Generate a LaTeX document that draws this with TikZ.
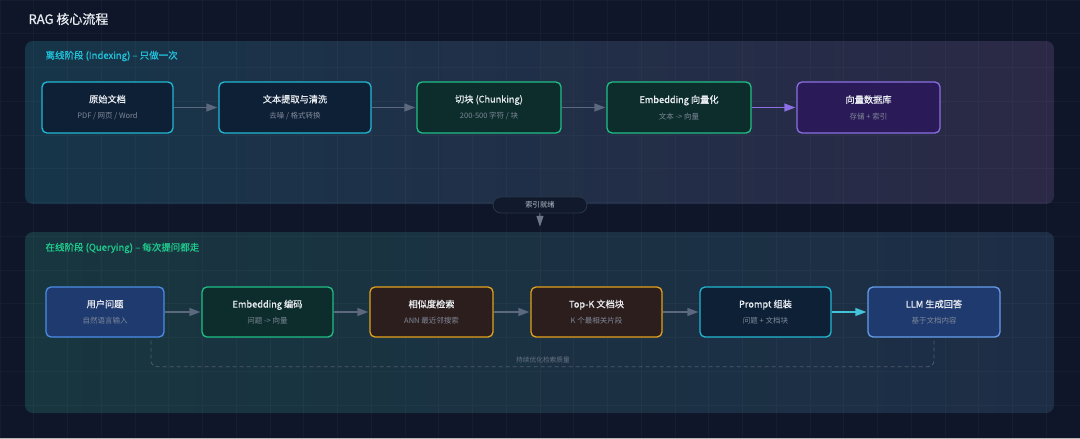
\documentclass[tikz,border=0pt]{standalone}
\usepackage{fontspec}
\setmainfont{Noto Sans CJK SC}
\newfontfamily\medfont{Noto Sans CJK SC}[FakeBold=0.8]
\usetikzlibrary{arrows.meta}

\definecolor{bgdark}{HTML}{0F1629}
\definecolor{paneltl}{HTML}{163549}
\definecolor{paneltm}{HTML}{1F2E4A}
\definecolor{paneltr}{HTML}{2B2946}
\definecolor{panelbl}{HTML}{18363F}
\definecolor{panelbm}{HTML}{1A3344}
\definecolor{panelbr}{HTML}{1D2D46}
\definecolor{cyanc}{HTML}{22B8D4}
\definecolor{cyanfill}{HTML}{0E2036}
\definecolor{greenc}{HTML}{1FBF86}
\definecolor{greenfill}{HTML}{0C2D2C}
\definecolor{purplec}{HTML}{8C6FE4}
\definecolor{purplefill}{HTML}{2A1A57}
\definecolor{bluec}{HTML}{4A8DE6}
\definecolor{bluefill}{HTML}{1E3A6F}
\definecolor{amberc}{HTML}{E3A21C}
\definecolor{amberfill}{HTML}{2D1E1E}
\definecolor{arrowc}{HTML}{5B687D}
\definecolor{textc}{HTML}{E8EBF0}
\definecolor{subc}{HTML}{7F8898}
\definecolor{labelcyan}{HTML}{22BFD8}
\definecolor{labelgreen}{HTML}{1FC98C}
\definecolor{dashc}{HTML}{4D5A6E}
\definecolor{badgefill}{HTML}{111A2C}
\definecolor{badgeborder}{HTML}{2A3549}
\definecolor{badgetext}{HTML}{B8C0CC}

\newcommand{\boxtext}[2]{{\fontsize{9.2}{11}\selectfont\medfont #1}\\[7.1pt]{\color{subc}#2}}

\begin{document}
\begin{tikzpicture}[x=1pt,y=-1pt,
  panel/.style={rounded corners=8pt, minimum width=1029pt, inner sep=0pt},
  stage/.style={draw, rounded corners=5pt, line width=1.3pt, inner sep=0pt, align=center,
    text=textc, font=\fontsize{7.5}{9}\selectfont},
  flow/.style={draw=arrowc, line width=1.3pt, -{Triangle[length=11pt,width=8pt]}, shorten >=1pt},
  badge/.style={draw=badgeborder, fill=badgefill, line width=0.8pt, rounded corners=8pt,
    minimum width=94pt, minimum height=16pt, inner sep=0pt, text=badgetext, font=\fontsize{7.3}{9}\selectfont},
  loopback/.style={draw=dashc, line width=0.8pt, dash pattern=on 4pt off 3pt, rounded corners=6pt}]

\fill[bgdark] (0,0) rectangle (1080,439);
\useasboundingbox (0,0) rectangle (1080,439);

\node[anchor=west, text=textc, font=\fontsize{13}{15}\selectfont\medfont] (title) at (25,19) {RAG 核心流程};

\node[panel, minimum height=163pt, left color=paneltl, middle color=paneltm, right color=paneltr] (offline) at (539.5,122.5) {};
\node[panel, minimum height=181pt, left color=panelbl, middle color=panelbm, right color=panelbr] (online) at (539.5,322.5) {};
\draw[white, opacity=0.03, line width=0.6pt] (0,439) grid[step=33.75pt] (1080,0);
\fill[gray!55] (0,437.5) rectangle (1080,439);

\node[anchor=west, text=labelcyan, font=\fontsize{9.5}{11}\selectfont\medfont] (offlinelabel) at (42,56) {离线阶段 (Indexing) – 只做一次};
\node[anchor=west, text=labelgreen, font=\fontsize{9.5}{11}\selectfont\medfont] (onlinelabel) at (42,248) {在线阶段 (Querying) – 每次提问都走};

\node[stage, draw=cyanc, fill=cyanfill, minimum width=131pt, minimum height=51pt] (doc) at (107.5,107.5) {\boxtext{原始文档}{PDF / 网页 / Word}};
\node[stage, draw=cyanc, fill=cyanfill, minimum width=152pt, minimum height=51pt] (clean) at (295,107.5) {\boxtext{文本提取与清洗}{去噪 / 格式转换}};
\node[stage, draw=greenc, fill=greenfill, minimum width=144pt, minimum height=51pt] (chunk) at (489,107.5) {\boxtext{切块 (Chunking)}{200-500 字符 / 块}};
\node[stage, draw=greenc, fill=greenfill, minimum width=144pt, minimum height=51pt] (embed) at (679,107.5) {\boxtext{Embedding 向量化}{文本 -> 向量}};
\node[stage, draw=purplec, fill=purplefill, minimum width=143pt, minimum height=51pt] (vecdb) at (868.5,107.5) {\boxtext{向量数据库}{存储 + 索引}};

\draw[flow] (doc) -- (clean);
\draw[flow] (clean) -- (chunk);
\draw[flow] (chunk) -- (embed);
\draw[flow, draw=purplec] (embed) -- (vecdb);

\node[badge] (ready) at (540,205) {索引就绪};
\draw[draw=arrowc!90!white, line width=1pt, -{Triangle[length=11pt,width=7pt]}, shorten >=5pt] (ready) -- (online);

\node[stage, draw=bluec, fill=bluefill, minimum width=118pt, minimum height=50pt] (query) at (105,312) {\boxtext{用户问题}{自然语言输入}};
\node[stage, draw=greenc, fill=greenfill, minimum width=131pt, minimum height=50pt] (qembed) at (267.5,312) {\boxtext{Embedding 编码}{问题 -> 向量}};
\node[stage, draw=amberc, fill=amberfill, minimum width=123pt, minimum height=50pt] (search) at (431.5,312) {\boxtext{相似度检索}{ANN 最近邻搜索}};
\node[stage, draw=amberc, fill=amberfill, minimum width=131pt, minimum height=50pt] (topk) at (596.5,312) {\boxtext{Top-K 文档块}{K 个最相关片段}};
\node[stage, draw=cyanc, fill=cyanfill, minimum width=131pt, minimum height=50pt] (prompt) at (765.5,312) {\boxtext{Prompt 组装}{问题 + 文档块}};
\node[stage, draw=bluec!85!white, fill=bluefill, minimum width=132pt, minimum height=50pt] (answer) at (934,312) {\boxtext{LLM 生成回答}{基于文档内容}};

\draw[flow] (query) -- (qembed);
\draw[flow] (qembed) -- (search);
\draw[flow] (search) -- (topk);
\draw[flow] (topk) -- (prompt);
\draw[flow, draw=cyanc!85!white] (prompt) -- (answer);

\draw[loopback] ([xshift=46pt,yshift=-3pt]query.south) -- ++(0,26) -| ([yshift=-3pt]answer.south);
\node[text=dashc!85!white, font=\fontsize{6.7}{8}\selectfont] (tune) at (543,359.5) {持续优化检索质量};
\end{tikzpicture}
\end{document}
